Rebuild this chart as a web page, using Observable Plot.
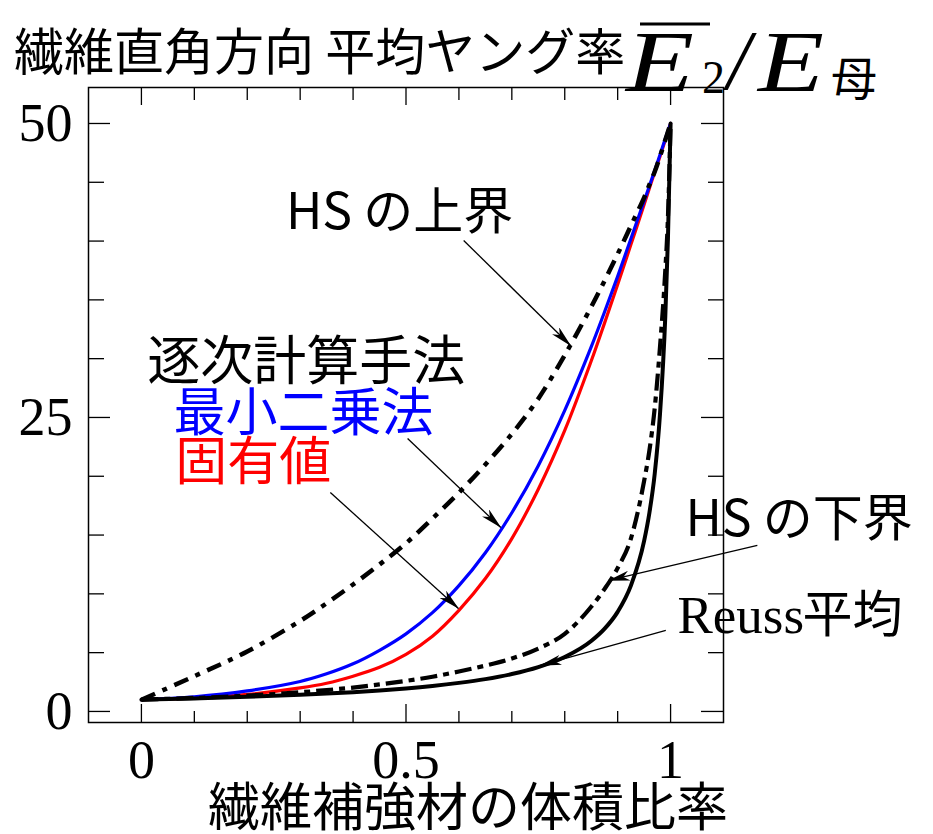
<!DOCTYPE html>
<html><head><meta charset="utf-8">
<script src="https://cdn.jsdelivr.net/npm/d3@7"></script>
<script src="https://cdn.jsdelivr.net/npm/@observablehq/plot@0.6"></script>
<style>
body{margin:0;background:#fff;}
#wrap{position:relative;width:933px;height:834px;overflow:hidden;background:#fff;}
#wrap svg{position:absolute;left:0;top:0;}
</style></head><body>
<div id="wrap"></div>
<script>
// Fiber volume fraction grid
const vf = [0,0.1,0.2,0.3,0.35,0.4,0.45,0.5,0.55,0.6,0.65,0.7,0.75,0.8,0.85,0.875,0.9,0.925,0.95,0.96,0.97,0.98,0.99,0.995,1];
// Series (E2 / E_matrix)
const reuss   = [1,1.11,1.24,1.42,1.52,1.64,1.79,1.96,2.17,2.43,2.75,3.18,3.77,4.63,5.99,7.02,8.47,10.7,14.5,16.9,20.2,25.3,33.6,40.2,50];
const hsLower = [1,1.15,1.35,1.63,1.82,2.03,2.3,2.6,2.95,3.4,3.9,4.5,5.35,6.6,8.9,10.4,12.2,14.7,19.6,22.2,25.8,31.0,37.5,42.0,50];
const hsUpper = [1,3.0,5.1,7.7,9.2,10.8,12.5,14.3,16.4,18.6,21.0,23.6,26.6,30.3,34.4,36.6,38.9,41.3,43.7,44.8,45.9,47.2,48.6,49.3,50];
const leastSq = [1,1.25,1.75,2.55,3.2,4.05,5.2,6.6,8.4,10.7,13.5,16.9,20.9,25.6,31.0,33.95,37.0,40.2,43.4,44.7,46.0,47.35,48.7,49.35,50];
const eigen   = [1,1.15,1.45,2.0,2.4,3.0,3.75,4.85,6.4,8.6,11.3,14.7,18.9,23.9,29.8,33.0,36.3,39.7,43.1,44.5,45.85,47.2,48.6,49.3,50];

// Ticks
const xMajorTicks = [0,0.5,1];
const xMinorTicks = [0.1,0.2,0.3,0.4,0.6,0.7,0.8,0.9];
const xTickLabels = ["0","0.5","1"];
const yMajorTicks = [0,25,50];
const yMinorTicks = [5,10,15,20,30,35,40,45];
const yTickLabels = ["0","25","50"];

// Annotations (anchor points in data units)
const annText = ["HS の上界","逐次計算手法","最小二乗法","固有値","HS の下界","Reuss","平均"];
const annX = [0.488,0.011,0.0605,0.064,1.028,1.013,1.013];
const annY = [42.43,29.6,25.26,21.09,16.24,8.08,8.08];
// Arrows: from (x1,y1) to (x2,y2)
const arrX1 = [0.609,0.503,0.357,1.164,0.991];
const arrY1 = [40.05,23.21,18.62,14.12,6.89];
const arrX2 = [0.811,0.679,0.599,0.883,0.754];
const arrY2 = [31.12,15.65,8.76,11.14,3.91];

const series = (ys) => vf.map((x,i)=>({x, y: ys[i]}));
const ann = annText.map((t,i)=>({t, x: annX[i], y: annY[i]}));
const arrows = arrX1.map((x1,i)=>({x1, y1: arrY1[i], x2: arrX2[i], y2: arrY2[i]}));

const W = 933, H = 834, mL = 88, mR = 210, mT = 87, mB = 112;
const innerH = H - mT - mB;
const innerW = W - mL - mR;
const jp = "'Noto Sans CJK JP', sans-serif";
const serif = "'Liberation Serif', 'Times New Roman', serif";

const chart = Plot.plot({
  width: W, height: H,
  marginLeft: mL, marginRight: mR, marginTop: mT, marginBottom: mB,
  x: {domain: [-0.1, 1.1], axis: null},
  y: {domain: [-0.94, 53.06], axis: null},
  style: {background: "white", overflow: "visible"},
  marks: [
    // annotation texts
    Plot.text([ann[0]], {x:"x", y:"y", text:"t", fontFamily: jp, fontSize: 50, fill:"black", textAnchor:"middle", lineAnchor:"middle"}),
    Plot.text([ann[1]], {x:"x", y:"y", text:"t", fontFamily: jp, fontSize: 53, fill:"black", textAnchor:"start", lineAnchor:"middle"}),
    Plot.text([ann[2]], {x:"x", y:"y", text:"t", fontFamily: jp, fontSize: 52, fill:"#0000ff", textAnchor:"start", lineAnchor:"middle"}),
    Plot.text([ann[3]], {x:"x", y:"y", text:"t", fontFamily: jp, fontSize: 52, fill:"#ff0000", textAnchor:"start", lineAnchor:"middle"}),
    Plot.text([ann[4]], {x:"x", y:"y", text:"t", fontFamily: jp, fontSize: 50, fill:"black", textAnchor:"start", lineAnchor:"middle"}),
    Plot.text([ann[5]], {x:"x", y:"y", text:"t", fontFamily: serif, fontSize: 53, fill:"black", textAnchor:"start", lineAnchor:"middle"}),
    Plot.text([ann[6]], {x:"x", y:"y", text:"t", fontFamily: jp, fontSize: 50, fill:"black", textAnchor:"start", lineAnchor:"middle", dx: 125}),
    // curves
    Plot.line(series(eigen), {x:"x", y:"y", stroke:"#ff0000", strokeWidth:3.2, curve:"catmull-rom"}),
    Plot.line(series(leastSq), {x:"x", y:"y", stroke:"#0000ff", strokeWidth:3.2, curve:"catmull-rom"}),
    Plot.line(series(hsUpper), {x:"x", y:"y", stroke:"black", strokeWidth:4.5, strokeDasharray:"15,8,5,8", strokeLinecap:"butt", curve:"catmull-rom"}),
    Plot.line(series(hsLower), {x:"x", y:"y", stroke:"black", strokeWidth:4.2, strokeDasharray:"17,6,6,6", strokeLinecap:"butt", curve:"monotone-x"}),
    Plot.line(series(reuss), {x:"x", y:"y", stroke:"black", strokeWidth:4, curve:"monotone-x"}),
    // arrows
    Plot.link(arrows, {x1:"x1", y1:"y1", x2:"x2", y2:"y2", stroke:"black", strokeWidth:1.3}),
    // ticks (inward)
    Plot.tickX(xMajorTicks, {x: d=>d, insetTop: innerH-18, stroke:"black", strokeWidth:1.3}),
    Plot.tickX(xMinorTicks, {x: d=>d, insetTop: innerH-11, stroke:"black", strokeWidth:1.3}),
    Plot.tickX(xMajorTicks, {x: d=>d, insetBottom: innerH-18, stroke:"black", strokeWidth:1.3}),
    Plot.tickX(xMinorTicks, {x: d=>d, insetBottom: innerH-13, stroke:"black", strokeWidth:1.3}),
    Plot.tickY(yMajorTicks, {y: d=>d, insetRight: innerW-22, stroke:"black", strokeWidth:1.3}),
    Plot.tickY(yMinorTicks, {y: d=>d, insetRight: innerW-16, stroke:"black", strokeWidth:1.3}),
    Plot.tickY(yMajorTicks, {y: d=>d, insetLeft: innerW-22, stroke:"black", strokeWidth:1.3}),
    Plot.tickY(yMinorTicks, {y: d=>d, insetLeft: innerW-15, stroke:"black", strokeWidth:1.3}),
    Plot.frame({stroke:"black", strokeWidth:1.5}),
    // tick labels
    Plot.text(xMajorTicks, {x: d=>d, text: (d,i)=>xTickLabels[i], frameAnchor:"bottom", dy: 38, lineAnchor:"middle", fontFamily: serif, fontSize: 54, fill:"black"}),
    Plot.text(yMajorTicks, {y: d=>d, text: (d,i)=>yTickLabels[i], frameAnchor:"left", dx: -16, textAnchor:"end", lineAnchor:"middle", fontFamily: serif, fontSize: 54, fill:"black"}),
    // x axis label
    Plot.text(["繊維補強材の体積比率"], {frameAnchor:"bottom", dx: 62, dy: 87, lineAnchor:"middle", fontFamily: jp, fontSize: 52, fill:"black"})
  ]
});

// filled arrowheads
const ns = "http://www.w3.org/2000/svg";
const defs = document.createElementNS(ns, "defs");
defs.innerHTML = '<marker id="ah" viewBox="0 0 22 10" refX="21" refY="5" markerWidth="22" markerHeight="10" markerUnits="userSpaceOnUse" orient="auto"><path d="M0,0L22,5L0,10L6,5Z" fill="#000"/></marker>';
chart.prepend(defs);
chart.querySelectorAll('g[aria-label="link"] path').forEach(p => p.setAttribute("marker-end", "url(#ah)"));

const wrap = document.getElementById("wrap");
wrap.appendChild(chart);

// Title
const title = document.createElementNS(ns, "svg");
title.setAttribute("width", 933);
title.setAttribute("height", 110);
title.innerHTML =
  '<text x="14" y="70" font-family="Noto Sans CJK JP" font-size="50">繊維直角方向 平均ヤング率</text>' +
  '<line x1="640" y1="24" x2="710" y2="24" stroke="#000" stroke-width="3"/>' +
  '<text x="626" y="91" font-family="Liberation Serif" font-style="italic" font-size="86" textLength="68" lengthAdjust="spacingAndGlyphs">E</text>' +
  '<text x="702" y="93" font-family="Liberation Serif" font-size="46">2</text>' +
  '<text x="727" y="89" font-family="Liberation Serif" font-style="italic" font-size="84">/</text>' +
  '<text x="758" y="91" font-family="Liberation Serif" font-style="italic" font-size="86" textLength="66" lengthAdjust="spacingAndGlyphs">E</text>' +
  '<text x="831" y="95" font-family="Noto Sans CJK JP" font-size="46">母</text>';
wrap.appendChild(title);
</script>
</body></html>
